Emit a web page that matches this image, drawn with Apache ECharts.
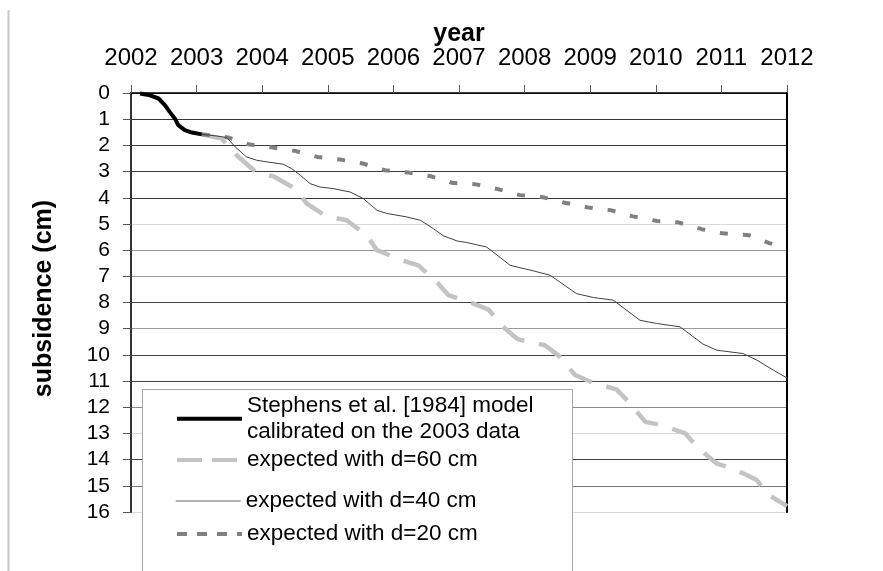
<!DOCTYPE html>
<html>
<head>
<meta charset="utf-8">
<script src="https://cdn.jsdelivr.net/npm/echarts@6/dist/echarts.min.js"></script>
<style>
  html, body { margin: 0; padding: 0; background: #fff; }
  #chart { width: 883px; height: 571px; }
</style>
</head>
<body>
<div id="chart"></div>
<script>
// Axis ticks
const yearTicks = [2002, 2003, 2004, 2005, 2006, 2007, 2008, 2009, 2010, 2011, 2012];
const depthTicks = [0, 1, 2, 3, 4, 5, 6, 7, 8, 9, 10, 11, 12, 13, 14, 15, 16];

// Series names
const seriesNames = [
  'Stephens et al. [1984] model\ncalibrated on the 2003 data',
  'expected with d=60 cm',
  'expected with d=40 cm',
  'expected with d=20 cm'
];

// Calibrated model, 2002-2003 (year, subsidence in cm)
const modelYear  = [2002.14, 2002.29, 2002.42, 2002.52, 2002.59, 2002.67, 2002.72, 2002.82, 2002.93, 2003.08];
const modelDepth = [0.02, 0.09, 0.21, 0.47, 0.72, 0.98, 1.23, 1.42, 1.51, 1.58];

// Projection with d = 60 cm
const d60Year  = [2003.08, 2003.38, 2003.61, 2003.92, 2004.17, 2004.50, 2004.68, 2004.98, 2005.29, 2005.59,
                  2005.75, 2006.13, 2006.38, 2006.66, 2006.84, 2007.22, 2007.45, 2007.70, 2007.90, 2008.31,
                  2008.51, 2008.77, 2009.05, 2009.40, 2009.61, 2009.84, 2010.09, 2010.45, 2010.65, 2010.93,
                  2011.18, 2011.54, 2011.72, 2011.97, 2012.00];
const d60Depth = [1.58, 1.74, 2.38, 3.05, 3.18, 3.65, 4.22, 4.71, 4.86, 5.43,
                  6.00, 6.39, 6.58, 7.21, 7.72, 8.04, 8.27, 8.99, 9.41, 9.63,
                  10.01, 10.77, 11.07, 11.32, 11.86, 12.56, 12.68, 13.00, 13.57, 14.15,
                  14.34, 14.78, 15.35, 15.73, 15.78];

// Projection with d = 40 cm
const d40Year  = [2003.08, 2003.30, 2003.46, 2003.59, 2003.76, 2003.92, 2004.07, 2004.32, 2004.45, 2004.58,
                  2004.73, 2004.88, 2005.08, 2005.34, 2005.54, 2005.75, 2005.90, 2006.20, 2006.41, 2006.61,
                  2006.76, 2006.97, 2007.12, 2007.42, 2007.58, 2007.78, 2008.13, 2008.39, 2008.79, 2009.05,
                  2009.35, 2009.76, 2010.01, 2010.37, 2010.72, 2010.93, 2011.33, 2011.54, 2011.79, 2011.97, 2012.00];
const d40Depth = [1.58, 1.64, 1.70, 2.06, 2.44, 2.57, 2.63, 2.72, 2.89, 3.14,
                  3.46, 3.59, 3.65, 3.78, 4.03, 4.48, 4.60, 4.73, 4.86, 5.18,
                  5.45, 5.65, 5.71, 5.88, 6.19, 6.58, 6.79, 6.96, 7.66, 7.81,
                  7.91, 8.68, 8.80, 8.93, 9.59, 9.82, 9.95, 10.20, 10.58, 10.84, 10.86];

// Projection with d = 20 cm
const d20Year  = [2003.08, 2003.13, 2003.48, 2003.81, 2004.16, 2004.50, 2004.84, 2005.19, 2005.53, 2005.87,
                  2006.23, 2006.57, 2006.91, 2007.24, 2007.59, 2007.93, 2008.28, 2008.63, 2008.97, 2009.32,
                  2009.65, 2010.02, 2010.34, 2010.70, 2011.02, 2011.42, 2011.73, 2011.97];
const d20Depth = [1.58, 1.59, 1.70, 1.97, 2.08, 2.21, 2.44, 2.54, 2.69, 2.95,
                  3.04, 3.18, 3.44, 3.48, 3.67, 3.90, 3.98, 4.20, 4.37, 4.48,
                  4.71, 4.89, 4.94, 5.20, 5.36, 5.43, 5.73, 5.90];

const pairs = (xs, ys) => xs.map((x, i) => [x, ys[i]]);

const FONT = "'Liberation Sans', Arial, sans-serif";

// Horizontal grid line shades, one per depth tick
const gridShades = ['#333', '#3a3a3a', '#3a3a3a', '#3a3a3a', '#3a3a3a', '#dadada', '#9a9a9a', '#9a9a9a', '#444',
                    '#9a9a9a', '#444', '#444', '#8a8a8a', '#dadada', '#444', '#777', '#dadada'];

const legendBase = {
  orient: 'vertical',
  left: 175,
  padding: 0,
  itemWidth: 65,
  itemHeight: 14,
  selectedMode: false,
  itemStyle: { opacity: 0 },
  textStyle: { fontSize: 22.5, color: '#000', fontFamily: FONT, lineHeight: 26 }
};

const chart = echarts.init(document.getElementById('chart'), null, { renderer: 'canvas' });

chart.setOption({
  animation: false,
  backgroundColor: '#fff',
  textStyle: { fontFamily: FONT },
  grid: { left: 131, right: 96, top: 93, bottom: 59 },
  xAxis: {
    type: 'value',
    position: 'top',
    min: yearTicks[0],
    max: yearTicks[yearTicks.length - 1],
    interval: 1,
    name: 'year',
    nameLocation: 'middle',
    nameGap: 46,
    nameMoveOverlap: false,
    nameTextStyle: { fontSize: 25, fontWeight: 'bold', color: '#000', fontFamily: FONT },
    axisLine: { show: true, onZero: false, lineStyle: { color: '#000', width: 1.5 } },
    axisTick: { show: true, inside: false, length: 8, lineStyle: { color: '#555' } },
    axisLabel: {
      fontSize: 24, color: '#000', margin: 23, fontFamily: FONT,
      formatter: v => String(yearTicks.find(t => t === v) ?? v)
    },
    splitLine: { show: false }
  },
  yAxis: [{
    type: 'value',
    inverse: true,
    min: depthTicks[0],
    max: depthTicks[depthTicks.length - 1],
    interval: 1,
    name: 'subsidence (cm)',
    nameLocation: 'middle',
    nameGap: 74,
    nameMoveOverlap: false,
    nameRotate: 90,
    nameTextStyle: { fontSize: 25, fontWeight: 'bold', color: '#000', fontFamily: FONT, padding: [0, 0, 0, 8] },
    axisLine: { show: true, onZero: false, lineStyle: { color: '#333', width: 2 } },
    axisTick: { show: true, inside: false, length: 8, lineStyle: { color: '#555' } },
    axisLabel: { fontSize: 21, color: '#000', margin: 21, fontFamily: FONT },
    splitLine: { show: true, lineStyle: { color: gridShades, width: 1 } }
  }, {
    type: 'value',
    inverse: true,
    position: 'right',
    min: depthTicks[0],
    max: depthTicks[depthTicks.length - 1],
    interval: 1,
    axisLine: { show: true, onZero: false, lineStyle: { color: '#000', width: 2 } },
    axisTick: { show: false },
    axisLabel: { show: false },
    splitLine: { show: false }
  }],
  legend: [
    Object.assign({}, legendBase, {
      top: 392,
      data: [seriesNames[0]],
      lineStyle: { width: 4 },
      textStyle: Object.assign({}, legendBase.textStyle, { lineHeight: 26.7 })
    }),
    Object.assign({}, legendBase, {
      top: 447,
      data: [seriesNames[1]],
      lineStyle: { width: 4, type: [25, 10] }
    }),
    Object.assign({}, legendBase, {
      top: 488,
      data: [seriesNames[2]],
      lineStyle: { width: 1.5, color: '#9a9a9a' }
    }),
    Object.assign({}, legendBase, {
      top: 521,
      data: [seriesNames[3]],
      lineStyle: { width: 4, type: [10, 10] }
    })
  ],
  graphic: [
    {
      type: 'line', silent: true, z: 10,
      shape: { x1: 8.5, y1: 10, x2: 8.5, y2: 571 },
      style: { stroke: '#c8c8c8', lineWidth: 2 }
    },
    {
      type: 'rect', silent: true, z: 3,
      shape: { x: 142.5, y: 389.5, width: 430, height: 200 },
      style: { fill: '#fff', stroke: '#a6a6a6', lineWidth: 1 }
    }
  ],
  series: [
    {
      name: seriesNames[1], type: 'line', symbol: 'none', z: 2,
      data: pairs(d60Year, d60Depth),
      itemStyle: { color: '#c3c3c3' },
      lineStyle: { color: '#c3c3c3', width: 4.5, type: [26, 15] }
    },
    {
      name: seriesNames[3], type: 'line', symbol: 'none', z: 2,
      data: pairs(d20Year, d20Depth),
      itemStyle: { color: '#808080' },
      lineStyle: { color: '#808080', width: 4, type: [8, 15] }
    },
    {
      name: seriesNames[2], type: 'line', symbol: 'none', z: 2,
      data: pairs(d40Year, d40Depth),
      itemStyle: { color: '#404040' },
      lineStyle: { color: '#404040', width: 1 }
    },
    {
      name: seriesNames[0], type: 'line', symbol: 'none', z: 2,
      data: pairs(modelYear, modelDepth),
      itemStyle: { color: '#000' },
      lineStyle: { color: '#000', width: 4 }
    }
  ]
});
</script>
</body>
</html>
